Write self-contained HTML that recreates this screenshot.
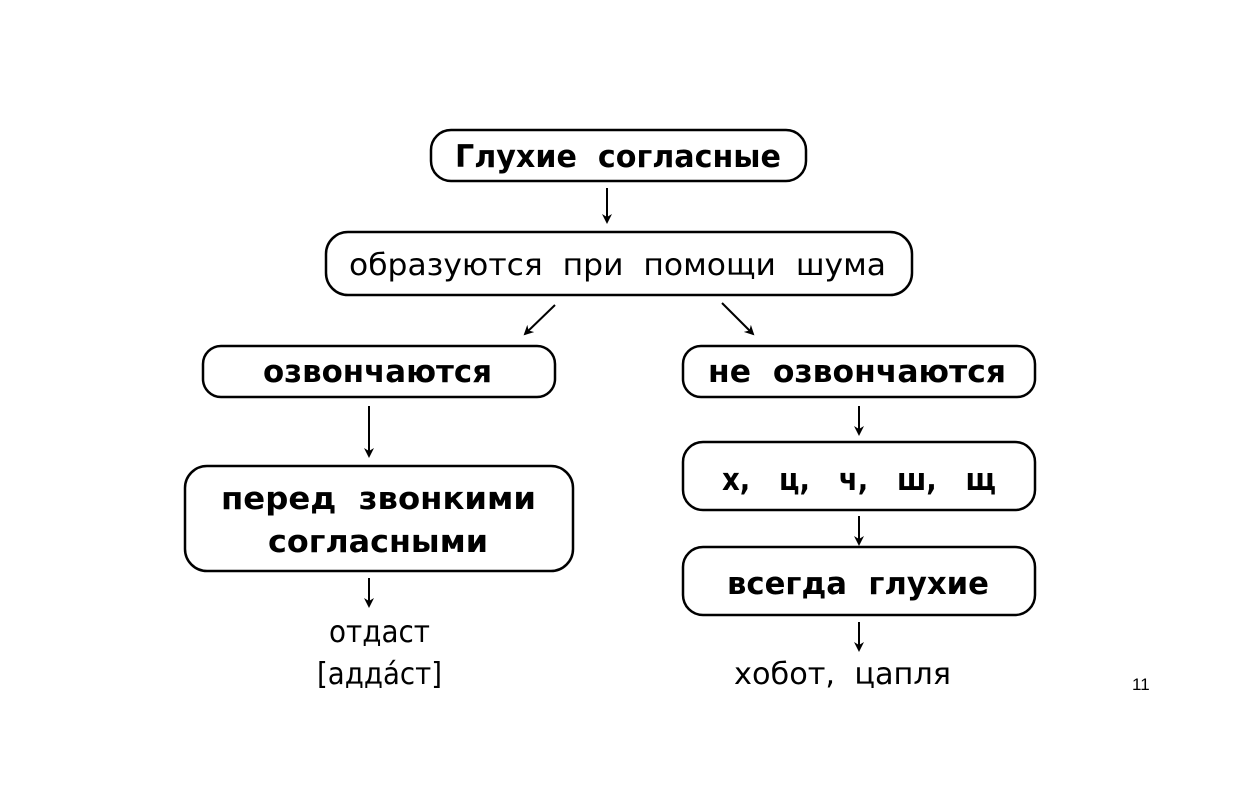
<!DOCTYPE html>
<html><head><meta charset="utf-8"><style>
html,body{margin:0;padding:0;background:#fff}
svg text{font-family:"DejaVu Sans","Liberation Sans",sans-serif;fill:#000}
.b{font-weight:bold;font-size:31px}
.n{font-size:30px}
</style></head><body>
<svg width="1240" height="797" viewBox="0 0 1240 797" xmlns="http://www.w3.org/2000/svg">
<defs><marker id="a" markerWidth="10" markerHeight="10" refX="8" refY="5" orient="auto" markerUnits="userSpaceOnUse"><path d="M0,0 L10,5 L0,10 L3,5 z" fill="#000"/></marker></defs>
<g fill="none" stroke="#000" stroke-width="2.5">
<rect x="431" y="130" width="375" height="51" rx="20"/>
<rect x="326" y="232" width="586" height="63" rx="22"/>
<rect x="203" y="346" width="352" height="51" rx="18"/>
<rect x="683" y="346" width="352" height="51" rx="18"/>
<rect x="185" y="466" width="388" height="105" rx="22"/>
<rect x="683" y="442" width="352" height="68" rx="20"/>
<rect x="683" y="547" width="352" height="68" rx="20"/>
</g>
<g stroke="#000" stroke-width="2" marker-end="url(#a)">
<line x1="607" y1="188" x2="607" y2="222"/>
<line x1="555" y1="305" x2="525" y2="334"/>
<line x1="722" y1="303" x2="753" y2="334"/>
<line x1="369" y1="406" x2="369" y2="456"/>
<line x1="859" y1="406" x2="859" y2="434"/>
<line x1="859" y1="516" x2="859" y2="544"/>
<line x1="859" y1="622" x2="859" y2="650"/>
<line x1="369" y1="578" x2="369" y2="606"/>
</g>
<g lengthAdjust="spacingAndGlyphs">
<text class="b" x="455" y="167" textLength="326" lengthAdjust="spacingAndGlyphs">Глухие&#160;&#160;согласные</text>
<text class="n" x="349" y="275" textLength="537" lengthAdjust="spacingAndGlyphs">образуются&#160;&#160;при&#160;&#160;помощи&#160;&#160;шума</text>
<text class="b" x="263" y="382" textLength="229" lengthAdjust="spacingAndGlyphs">озвончаются</text>
<text class="b" x="708" y="382" textLength="298" lengthAdjust="spacingAndGlyphs">не&#160;&#160;озвончаются</text>
<text class="b" x="221" y="509" textLength="315" lengthAdjust="spacingAndGlyphs">перед&#160;&#160;звонкими</text>
<text class="b" x="268" y="552" textLength="220" lengthAdjust="spacingAndGlyphs">согласными</text>
<text class="b" x="722" y="490" textLength="274" lengthAdjust="spacingAndGlyphs">х,&#160;&#160;&#160;ц,&#160;&#160;&#160;ч,&#160;&#160;&#160;ш,&#160;&#160;&#160;щ</text>
<text class="b" x="727" y="594" textLength="262" lengthAdjust="spacingAndGlyphs">всегда&#160;&#160;глухие</text>
<text class="n" x="329" y="642" textLength="101" lengthAdjust="spacingAndGlyphs">отдаст</text>
<text class="n" x="317" y="684" textLength="125" lengthAdjust="spacingAndGlyphs">[аддáст]</text>
<text class="n" x="734" y="684" textLength="217" lengthAdjust="spacingAndGlyphs">хобот,&#160;&#160;цапля</text>
</g>
<text x="1132" y="690" style="font-family:'Liberation Sans',sans-serif;font-size:17px">11</text>
</svg>
</body></html>
